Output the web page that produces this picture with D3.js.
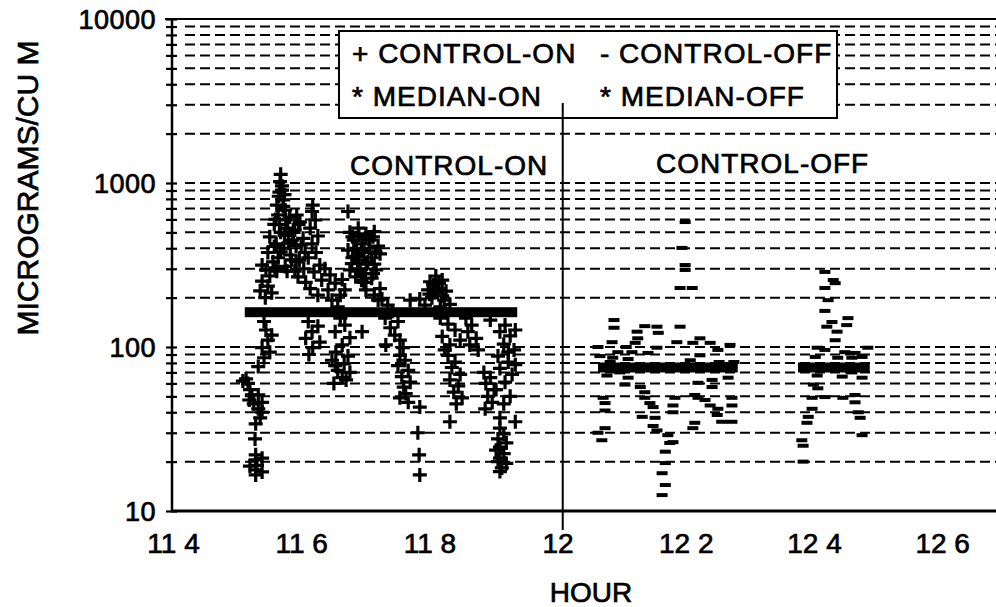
<!DOCTYPE html>
<html>
<head>
<meta charset="utf-8">
<script src="https://cdn.jsdelivr.net/npm/d3@7"></script>
<style>
  html, body { margin: 0; padding: 0; background: #fff; }
  svg { display: block; }
  text { font-family: "Liberation Sans", Arial, Helvetica, sans-serif; fill: #000; stroke: #000; stroke-width: 0.7px; }
</style>
</head>
<body>
<svg id="chart" width="996" height="607"></svg>
<script>
// ---------------- DATA ----------------
const xTicks = [11.4, 11.6, 11.8, 12.0, 12.2, 12.4, 12.6];
const xTickLabels = ["11 4", "11 6", "11 8", "12", "12 2", "12 4", "12 6"];
const yTicks = [10, 100, 1000, 10000];
const yTickLabels = ["10", "100", "1000", "10000"];
const gridMultipliers = [1, 2, 3, 4, 5, 6, 7, 8, 9];
const gridDecades = [10, 100, 1000];

const xTitle = "HOUR";
const yTitle = "MICROGRAMS/CU M";
const legendItems = [
  ["+ CONTROL-ON", "- CONTROL-OFF"],
  ["* MEDIAN-ON", "* MEDIAN-OFF"]
];
const periodLabels = ["CONTROL-ON", "CONTROL-OFF"];

const dividerHour = 12.008;
const medianOnValue = 163;
const medianOnSpans = [[11.512, 11.937]];
const medianOffValue = 75;
const medianOffSpans = [[12.063, 12.281], [12.375, 12.487]];

// CONTROL-ON samples [hour, micrograms/cu m]
const controlOn = [
  [11.509,62],[11.514,64],[11.517,60],[11.520,55],[11.523,51],[11.519,47.5],[11.526,45],[11.533,42],
  [11.539,40],[11.536,37],[11.529,34],[11.528,27.5],[11.529,22],[11.529,20.5],[11.531,19],[11.529,17.8],
  [11.529,16.6],[11.533,51],[11.539,46],[11.539,21],[11.520,18.8],[11.539,17.3],
  [11.542,143],[11.545,127],[11.548,110],[11.539,99],[11.551,93],[11.542,86],[11.533,76],[11.554,118],
  [11.539,316],[11.545,295],[11.551,271],[11.539,252],[11.548,235],[11.536,220],[11.554,214],[11.544,200],[11.559,304],
  [11.568,1130],[11.567,1020],[11.570,960],[11.570,906],[11.565,830],[11.572,788],[11.562,734],[11.575,684],
  [11.564,638],[11.576,595],[11.558,560],[11.579,530],[11.568,500],[11.551,470],[11.586,449],[11.561,425],
  [11.573,400],[11.548,377],[11.583,364],[11.564,350],[11.592,330],[11.575,310],[11.556,330],
  [11.560,600],[11.566,560],[11.574,480],[11.580,430],[11.558,410],[11.568,380],[11.585,340],[11.578,290],
  [11.562,290],[11.590,290],[11.600,420],[11.588,500],[11.596,560],[11.582,620],[11.572,720],[11.566,880],[11.574,850],
  [11.593,638],[11.598,580],[11.590,517],[11.603,460],[11.592,413],[11.606,377],[11.597,339],[11.604,300],
  [11.595,268],[11.607,248],
  [11.618,734],[11.617,670],[11.622,595],[11.614,530],[11.626,475],[11.617,425],[11.623,377],[11.611,350],
  [11.629,316],[11.620,287],[11.632,256],[11.614,227],[11.626,207],
  [11.637,300],[11.645,275],[11.653,245],[11.642,223],[11.661,207],[11.648,193],[11.668,223],[11.657,176],[11.664,258],
  [11.611,143],[11.626,134],[11.617,124],[11.607,113],[11.629,107],[11.618,99],[11.612,90],
  [11.661,150],[11.668,136],[11.653,124],[11.676,114],[11.664,103],[11.654,93],[11.673,88],[11.648,83],
  [11.667,79],[11.657,72],[11.676,70],[11.664,65],[11.651,60],[11.670,63],[11.653,77],
  [11.695,124],[11.673,670],
  [11.676,500],[11.689,530],[11.701,490],[11.714,505],[11.682,449],[11.695,425],[11.707,449],[11.720,413],
  [11.673,390],[11.685,357],[11.698,377],[11.710,350],[11.723,370],[11.679,322],[11.692,300],[11.704,330],
  [11.717,295],[11.685,268],[11.698,248],[11.710,263],[11.676,295],[11.723,227],[11.701,223],
  [11.680,470],[11.690,480],[11.700,460],[11.712,470],[11.686,400],[11.694,390],[11.706,400],[11.716,380],
  [11.680,350],[11.690,340],[11.702,320],[11.714,320],[11.688,290],[11.700,280],[11.712,280],[11.694,255],
  [11.714,207],[11.720,193],
  [11.726,196],[11.735,180],[11.742,165],[11.731,150],[11.751,143],[11.739,131],[11.746,118],[11.754,110],
  [11.732,103],[11.759,99],
  [11.754,89],[11.762,83],[11.751,77],[11.767,72],[11.757,66],[11.770,61],[11.760,57],[11.763,52],
  [11.754,49],[11.767,46],
  [11.785,43],[11.782,30],[11.784,22],[11.785,16.6],
  [11.810,271],[11.801,250],[11.820,256],[11.798,223],[11.813,227],[11.826,219],[11.804,200],[11.823,193],
  [11.793,180],[11.817,176],[11.832,182],[11.770,193],[11.785,196],
  [11.806,240],[11.815,245],[11.808,215],[11.820,205],[11.800,210],
  [11.817,150],[11.829,138],[11.840,127],[11.820,116],[11.848,110],[11.832,103],[11.824,96],
  [11.829,89],[11.840,81],[11.835,75],[11.848,68],[11.832,63],[11.845,58],[11.838,53],[11.851,49],
  [11.842,45],[11.832,35],
  [11.857,150],[11.866,136],[11.860,124],[11.873,113],[11.863,103],[11.876,96],
  [11.885,70],[11.895,65],[11.888,60],[11.901,55],[11.891,50],[11.898,46],[11.887,42],
  [11.910,124],[11.926,117],[11.916,104],[11.932,96],[11.907,88],[11.923,81],[11.910,74],[11.929,68],
  [11.918,61],[11.904,55],[11.926,50],[11.916,45],[11.934,78],[11.923,93],
  [11.910,37],[11.934,35],[11.910,32],[11.916,29.5],[11.907,27.5],[11.920,26],[11.910,24.5],[11.904,23.5],
  [11.916,22.4],[11.910,21],[11.907,20],[11.920,19.5],[11.913,18.3],[11.910,17.4],
  [11.918,136],[11.934,127],[11.895,146]
];

// CONTROL-OFF samples [hour, micrograms/cu m]
const controlOff = [
  [12.199,578],[12.194,402],[12.199,316],[12.199,295],[12.191,229],[12.210,229],
  [12.088,146],[12.088,131],[12.124,124],[12.136,134],[12.155,133],[12.157,122],[12.191,133],
  [12.125,113],[12.121,106],[12.085,107],[12.107,100],[12.186,107],[12.222,113],[12.211,106],
  [12.238,106],[12.269,103],[12.094,93],[12.116,93],[12.141,92],[12.086,86],[12.110,84.5],
  [12.222,89],[12.250,96],[12.155,99],
  [12.077,67],[12.110,65],[12.105,59],[12.129,57],[12.266,65],[12.241,63],[12.241,57],[12.219,60.5],
  [12.136,53],[12.071,49],[12.074,45.5],[12.074,41],[12.136,49],[12.144,45.5],[12.149,43],
  [12.183,49],[12.180,44],[12.180,40],[12.214,51],[12.219,49],[12.230,47.5],[12.238,44],
  [12.272,49],[12.272,44],[12.250,42],[12.249,38.5],[12.256,35],[12.272,35],
  [12.132,37.5],[12.152,37],[12.149,33],[12.155,31],[12.214,34.5],[12.211,32],
  [12.063,30],[12.074,32],[12.069,27],[12.172,29],[12.175,26],[12.168,23],[12.168,19.6],
  [12.163,17],[12.168,14.4],[12.163,12.5],[12.180,26.3],
  [12.063,100],[12.066,88],[12.082,81],[12.097,70],[12.207,83],[12.252,81],[12.275,81],
  [12.417,287],[12.430,256],[12.433,245],[12.417,229],[12.422,193],[12.417,166],[12.428,142],
  [12.453,150],[12.420,133],[12.436,124],[12.451,136],[12.433,110],[12.405,99],[12.417,96],
  [12.448,93],[12.464,92],[12.484,99],[12.402,87],[12.437,86],[12.459,86],[12.475,87],
  [12.405,67],[12.444,66],[12.459,70],[12.475,65],[12.399,59],[12.406,56],[12.417,49.5],
  [12.445,49],[12.464,51],[12.464,46],[12.397,49],[12.397,42],[12.391,37.5],[12.389,34.5],
  [12.469,40],[12.472,37],[12.475,29],[12.381,27],[12.383,25],[12.383,20]
];

// ---------------- LAYOUT ----------------
const W = 996, H = 607;
const plotLeft = 172, plotTop = 19, plotBottom = 511;
const font = "Liberation Sans, Arial, Helvetica, sans-serif";

const svg = d3.select("#chart");
svg.append("rect").attr("width", W).attr("height", H).attr("fill", "#fff");

const x = d3.scaleLinear().domain([11.4, 12.7]).range([173, 173 + 1.3 * 641]);
const y = d3.scaleLog().domain([10, 10000]).range([plotBottom, plotTop]);

const gridValues = [];
gridDecades.forEach(d => gridMultipliers.forEach(m => gridValues.push(d * m)));
const gridOnly = gridValues.filter(v => v > 10);

// dashed horizontal grid
svg.append("g").selectAll("line").data(gridOnly).join("line")
  .attr("x1", 185).attr("x2", W)
  .attr("y1", d => y(d)).attr("y2", d => y(d))
  .attr("stroke", "#000").attr("stroke-width", 2)
  .attr("stroke-dasharray", "10,5");

// y axis ticks on both sides
const yAxis = d3.axisLeft(y)
  .tickValues(gridValues.concat([10000]))
  .tickSize(0)
  .tickFormat("");
const yg = svg.append("g").attr("transform", `translate(${plotLeft},0)`).call(yAxis);
yg.select(".domain").remove();
yg.selectAll(".tick line").remove();
yg.selectAll(".tick").append("line")
  .attr("x1", -6).attr("x2", 5).attr("stroke", "#000").attr("stroke-width", 2.2);

// y tick labels
svg.append("g").selectAll("text").data(yTicks).join("text")
  .attr("x", 156).attr("y", d => y(d) + 10)
  .attr("text-anchor", "end")
  .attr("font-size", 27).attr("letter-spacing", 0.5)
  .text((d, i) => yTickLabels[i]);

// x axis labels
const xAxis = d3.axisBottom(x).tickValues(xTicks).tickSize(0)
  .tickFormat((d, i) => xTickLabels[i]);
const xg = svg.append("g").attr("transform", `translate(0,${plotBottom})`).call(xAxis);
xg.select(".domain").remove();
xg.selectAll(".tick text")
  .attr("y", 42).attr("dy", 0)
  .attr("font-size", 28).attr("font-family", font).attr("fill", "#000")
  .attr("stroke", "#000").attr("stroke-width", 0.7);

// frame lines
svg.append("line").attr("x1", plotLeft).attr("x2", plotLeft).attr("y1", plotTop).attr("y2", plotBottom + 1)
  .attr("stroke", "#000").attr("stroke-width", 2.5);
svg.append("line").attr("x1", plotLeft - 1).attr("x2", W).attr("y1", plotBottom).attr("y2", plotBottom)
  .attr("stroke", "#000").attr("stroke-width", 3);
svg.append("line").attr("x1", 165).attr("x2", W).attr("y1", plotTop).attr("y2", plotTop)
  .attr("stroke", "#000").attr("stroke-width", 2);

// medians (dense asterisk bands)
svg.append("g").selectAll("rect").data(medianOnSpans).join("rect")
  .attr("x", d => x(d[0])).attr("width", d => x(d[1]) - x(d[0]))
  .attr("y", y(medianOnValue) - 5).attr("height", 10).attr("fill", "#000");
svg.append("g").selectAll("rect").data(medianOffSpans).join("rect")
  .attr("x", d => x(d[0])).attr("width", d => x(d[1]) - x(d[0]))
  .attr("y", y(medianOffValue) - 5).attr("height", 10).attr("fill", "#000");

// CONTROL-ON plus markers
svg.append("g").selectAll("path").data(controlOn).join("path")
  .attr("transform", d => `translate(${x(d[0])},${y(d[1])})`)
  .attr("d", "M-7,0H7M0,-7V7")
  .attr("stroke", "#000").attr("stroke-width", 3.2).attr("fill", "none");

// CONTROL-OFF dash markers
svg.append("g").selectAll("rect").data(controlOff).join("rect")
  .attr("x", d => x(d[0]) - 5.5).attr("y", d => y(d[1]) - 2)
  .attr("width", 11).attr("height", 4).attr("fill", "#000");

// period labels
svg.append("text").attr("x", 350).attr("y", 175).attr("font-size", 28).attr("letter-spacing", 1)
  .text(periodLabels[0]);
svg.append("text").attr("x", 656).attr("y", 173).attr("font-size", 28).attr("letter-spacing", 1)
  .text(periodLabels[1]);

// legend
svg.append("rect").attr("x", 339).attr("y", 31).attr("width", 498).attr("height", 87)
  .attr("fill", "#fff").attr("stroke", "#000").attr("stroke-width", 2);
const legendX = [352, 600];
const legendY = [63, 106];
legendItems.forEach((row, r) => row.forEach((t, c) => {
  svg.append("text").attr("x", legendX[c]).attr("y", legendY[r])
    .attr("font-size", 28).attr("letter-spacing", 1).attr("xml:space", "preserve")
    .text(t);
}));

// divider between periods
svg.append("line").attr("x1", x(dividerHour)).attr("x2", x(dividerHour))
  .attr("y1", 103).attr("y2", 530).attr("stroke", "#000").attr("stroke-width", 2);

// axis titles
svg.append("text").attr("x", 591).attr("y", 602).attr("text-anchor", "middle")
  .attr("font-size", 28).text(xTitle);
svg.append("text").attr("transform", "translate(38,188) rotate(-90)")
  .attr("text-anchor", "middle").attr("font-size", 30).text(yTitle);
</script>
</body>
</html>
